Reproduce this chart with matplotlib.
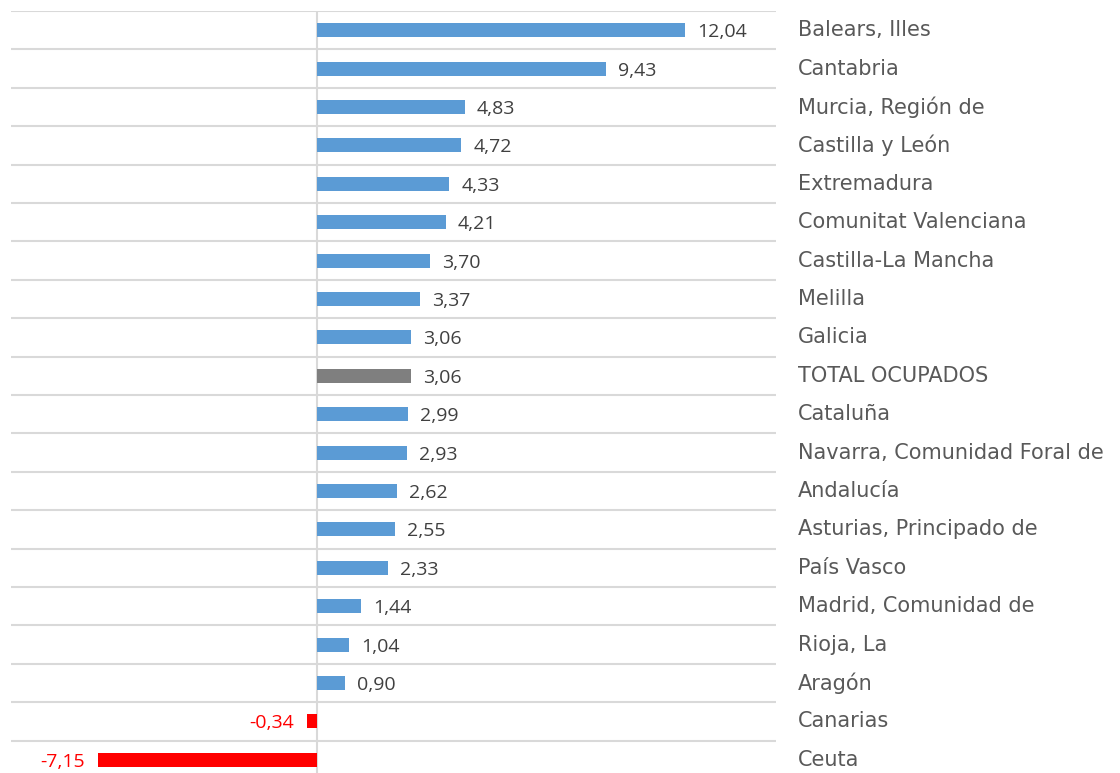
import matplotlib
matplotlib.use("Agg")
import matplotlib.pyplot as plt

categories = ["Balears, Illes", "Cantabria", "Murcia, Región de", "Castilla y León",
              "Extremadura", "Comunitat Valenciana", "Castilla-La Mancha", "Melilla",
              "Galicia", "TOTAL OCUPADOS", "Cataluña", "Navarra, Comunidad Foral de",
              "Andalucía", "Asturias, Principado de", "País Vasco", "Madrid, Comunidad de",
              "Rioja, La", "Aragón", "Canarias", "Ceuta"]
values = [12.04, 9.43, 4.83, 4.72, 4.33, 4.21, 3.70, 3.37, 3.06, 3.06, 2.99, 2.93,
          2.62, 2.55, 2.33, 1.44, 1.04, 0.90, -0.34, -7.15]
value_labels = ["12,04", "9,43", "4,83", "4,72", "4,33", "4,21", "3,70", "3,37", "3,06",
                "3,06", "2,99", "2,93", "2,62", "2,55", "2,33", "1,44", "1,04", "0,90",
                "-0,34", "-7,15"]

BLUE = "#5B9BD5"
GRAY = "#7F7F7F"
RED = "#FF0000"

fig = plt.figure(figsize=(11.2, 7.73), dpi=100)
W, H = 1120, 773
left, right_px = 11, 776
top_px, bottom_px = 11, 779
ax = fig.add_axes([left / W, 1 - bottom_px / H, (right_px - left) / W, (bottom_px - top_px) / H])

n = len(categories)
ys = list(range(n))
colors = []
for c, v in zip(categories, values):
    if c == "TOTAL OCUPADOS":
        colors.append(GRAY)
    elif v < 0:
        colors.append(RED)
    else:
        colors.append(BLUE)

ax.barh(ys, values, height=0.36, color=colors, zorder=3)
ax.set_xlim(-10, 15)
ax.set_ylim(n - 0.5, -0.5)

for i in range(n):
    ax.axhline(i - 0.5, color="#D9D9D9", lw=1.5, zorder=1)
ax.axvline(0, color="#D9D9D9", lw=1.5, zorder=2)

for sp in ax.spines.values():
    sp.set_visible(False)
ax.set_xticks([])
ax.set_yticks([])

for y, v, lab in zip(ys, values, value_labels):
    if v >= 0:
        ax.annotate(lab, (v, y), xytext=(12, -2), textcoords="offset pixels",
                    ha="left", va="center", fontsize=14, color="#404040",
                    family="Open Sans", annotation_clip=False)
    else:
        ax.annotate(lab, (v, y), xytext=(-13, -2), textcoords="offset pixels",
                    ha="right", va="center", fontsize=14, color=RED,
                    family="Open Sans", annotation_clip=False)

for y, c in zip(ys, categories):
    ax.annotate(c, (1.0, y), xycoords=("axes fraction", "data"), xytext=(22, 0),
                textcoords="offset pixels", ha="left", va="center", fontsize=15,
                color="#595959", family="DejaVu Sans", annotation_clip=False)

fig.savefig("out.png", dpi=100)
